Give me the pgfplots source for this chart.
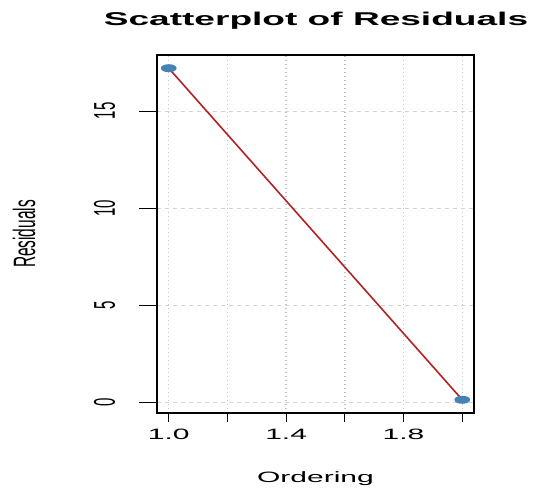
\documentclass[border=0pt]{standalone}
\usepackage{fontspec}
\setmainfont{Liberation Sans}[FakeStretch=2]
\newfontfamily\plainfont{Liberation Sans}
\usepackage{graphicx}
\usepackage{pgfplots}
\pgfplotsset{compat=1.18}
\definecolor{ptcol}{HTML}{4682B4}
\definecolor{lncol}{HTML}{B22222}
\definecolor{gridcol}{HTML}{D3D3D3}
\definecolor{vgridcol}{HTML}{C4C4C4}
\begin{document}
\begin{tikzpicture}[x=0.75pt,y=0.75pt]
\path[use as bounding box] (0,0) rectangle (536,488);
\node[font=\fontsize{13.9}{16}\selectfont\bfseries, anchor=base] at (316,462) {Scatterplot of Residuals};
\begin{axis}[
  at={(117.75pt,56.25pt)}, anchor=south west,
  width=237.75pt, height=268.5pt, scale only axis,
  xmin=0.96, xmax=2.04, ymin=-0.53, ymax=17.88,
  xtick={1.0,1.2,1.4,1.6,1.8,2.0},
  xticklabels={1.0,,1.4,,1.8,},
  ytick={0,5,10,15},
  yticklabel={\scalebox{1}[2]{\plainfont\fontsize{11.25}{12}\selectfont\pgfmathprintnumber{\tick}}},
  tick align=outside,
  xtick pos=bottom, ytick pos=left,
  xtick style={black, line width=0.8pt, /pgfplots/major tick length=6.4pt},
  ytick style={black, line width=0.6pt, /pgfplots/major tick length=13.5pt},
  ticklabel style={font=\fontsize{11.25}{12}\selectfont},
  /pgf/number format/assume math mode=true,
  yticklabel style={anchor=center, xshift=-35pt, rotate=90},
  xticklabel style={anchor=base, yshift=-15.5pt},
  axis line style={black, line width=1pt},
  xmajorgrids, ymajorgrids,
  x grid style={vgridcol, line width=1pt, dotted},
  y grid style={gridcol, line width=0.6pt, dash pattern=on 3pt off 3pt},
  xlabel={Ordering},
  ylabel={\scalebox{1}[2]{\plainfont\fontsize{11.6}{12}\selectfont Residuals}},
  every axis x label/.style={at={(axis description cs:0.5,0)}, anchor=base, yshift=-52.5pt, font=\fontsize{11.25}{12}\selectfont},
  every axis y label/.style={at={(axis description cs:0,0.5)}, anchor=center, xshift=-99.75pt, rotate=90},
]
\addplot[lncol, line width=1.2pt, mark=*, mark size=2.4pt, mark options={xscale=2.2, fill=ptcol, draw=ptcol, solid}] coordinates {
(1.0,17.2)
(2.0,0.15)
};
\end{axis}
\end{tikzpicture}
\end{document}
